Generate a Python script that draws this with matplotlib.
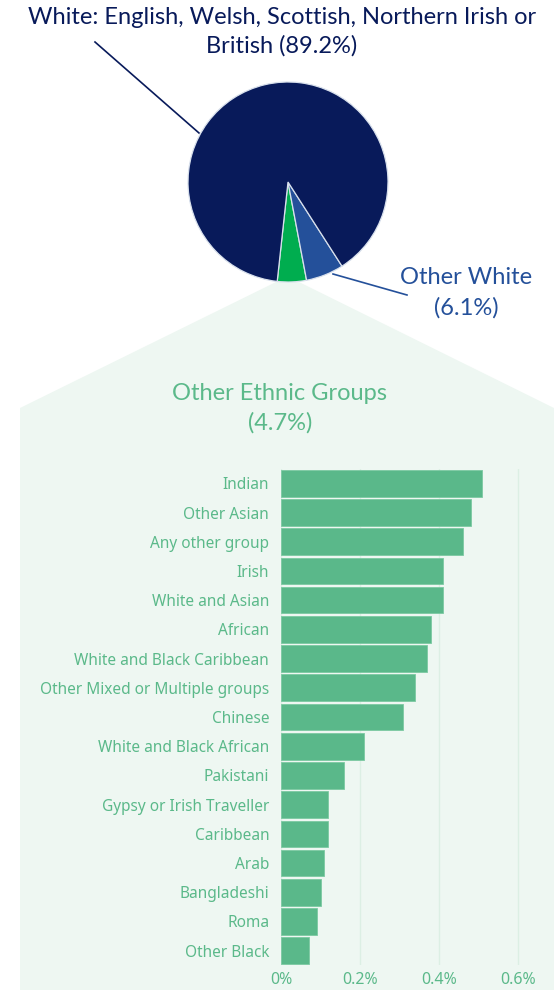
import matplotlib.pyplot as plt
from matplotlib.patches import Polygon
from matplotlib.ticker import FuncFormatter

# pie: share of population
pie_labels = ['Other Ethnic Groups', 'Other White',
              'White: English, Welsh, Scottish, Northern Irish or British']
pie_values = [4.7, 6.1, 89.2]

# breakdown of the "other ethnic groups" slice (% of population)
groups = ['Indian', 'Other Asian', 'Any other group', 'Irish', 'White and Asian',
          'African', 'White and Black Caribbean', 'Other Mixed or Multiple groups',
          'Chinese', 'White and Black African', 'Pakistani',
          'Gypsy or Irish Traveller', 'Caribbean', 'Arab', 'Bangladeshi', 'Roma',
          'Other Black']
shares = [0.51, 0.48, 0.46, 0.41, 0.41, 0.38, 0.37, 0.34, 0.31, 0.21, 0.16,
          0.12, 0.12, 0.11, 0.10, 0.09, 0.07]
ticks = [0, 0.2, 0.4, 0.6]

NAVY = '#081a5a'
BLUE = '#24509a'
GREEN = '#00ad4f'
BAR = '#5ab88a'
TXT_GREEN = '#5bb98a'
PANEL = '#eef7f2'

W, H = 557, 990
fig = plt.figure(figsize=(W / 100, H / 100), dpi=100)


def px_axes(x0, y0, w, h, **kw):
    # axes placed with pixel coords measured from the top-left corner
    return fig.add_axes([x0 / W, 1 - (y0 + h) / H, w / W, h / H], **kw)


bg = px_axes(0, 0, W, H)
bg.set_xlim(0, W)
bg.set_ylim(H, 0)
bg.axis('off')

# light panel behind the bar chart
bg.add_patch(Polygon([(20, 408), (278, 281), (297, 281), (554, 408),
                      (554, H), (20, H)], closed=True, fc=PANEL, ec='none'))

# leader lines
bg.plot([95, 199], [42, 133], color=NAVY, lw=1.2)
bg.plot([333, 407], [274, 295], color=BLUE, lw=1.2)

fs_big = 17
bg.text(282, 17, 'White: English, Welsh, Scottish, Northern Irish or',
        ha='center', va='center', color=NAVY, fontsize=fs_big, family='Lato')
bg.text(282, 46, 'British (89.2%)', ha='center', va='center', color=NAVY,
        fontsize=fs_big, family='Lato')
bg.text(466, 278, 'Other White', ha='center', va='center', color=BLUE,
        fontsize=fs_big, family='Lato')
bg.text(466, 308, '(6.1%)', ha='center', va='center', color=BLUE,
        fontsize=fs_big, family='Lato')
bg.text(280, 393, 'Other Ethnic Groups', ha='center', va='center',
        color=TXT_GREEN, fontsize=fs_big, family='Lato')
bg.text(280, 423, '(4.7%)', ha='center', va='center', color=TXT_GREEN,
        fontsize=fs_big, family='Lato')

# pie
pax = px_axes(188, 82, 200, 200)
pax.pie(pie_values, colors=[GREEN, BLUE, NAVY], startangle=263.8,
        counterclock=True,
        wedgeprops=dict(edgecolor='#d8e0ec', linewidth=0.9))
pax.set_xlim(-1, 1)
pax.set_ylim(-1, 1)
pax.axis('off')

# bar chart
ax = px_axes(281, 468.7, 273, 496.6)
ax.set_facecolor('none')
y = list(range(len(groups)))
ax.barh(y, shares, height=0.91, color=BAR, edgecolor='#7cc9a2', linewidth=0.6,
        zorder=3)
ax.set_ylim(len(groups) - 0.5, -0.5)
ax.set_xlim(0, 273 / 395)
ax.set_xticks(ticks)
ax.xaxis.set_major_formatter(FuncFormatter(lambda v, _: f'{v:g}%'))
ax.set_yticks(y)
ax.set_yticklabels(groups)
ax.grid(axis='x', color='#dcefe4', lw=1, zorder=0)
ax.tick_params(length=0, colors=TXT_GREEN)
ax.tick_params(axis='y', pad=8.5, labelsize=11.1)
ax.tick_params(axis='x', pad=5, labelsize=11.5)
for lab in ax.get_yticklabels() + ax.get_xticklabels():
    lab.set_family('Noto Sans')
for s in ax.spines.values():
    s.set_visible(False)

fig.savefig('out.png', dpi=100)
